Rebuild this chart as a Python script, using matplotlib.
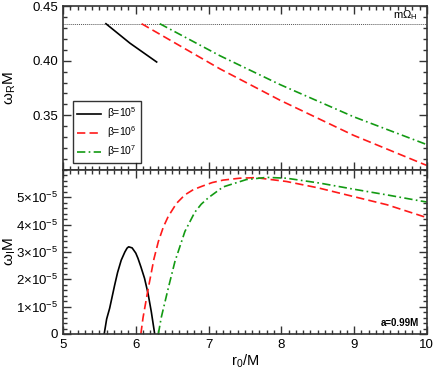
import matplotlib
matplotlib.use("Agg")
import matplotlib.pyplot as plt
from matplotlib.ticker import MultipleLocator, FixedLocator

plt.rcParams["font.family"] = ["Liberation Sans", "DejaVu Sans"]
plt.rcParams["mathtext.default"] = "regular"
plt.rcParams["font.size"] = 9.5

# ── data ──
m_omega_h = 0.4338

# upper panel: real part omega_R M
r_b_re = [5.59, 5.92, 6.287]
w_b_re = [0.4338, 0.4160, 0.3988]
r_r_re = [6.08, 7.157, 7.98, 8.99, 9.95, 10.0]
w_r_re = [0.4338, 0.3925, 0.3639, 0.3318, 0.3055, 0.3042]
r_g_re = [6.33, 7.157, 7.98, 8.99, 9.95, 10.0]
w_g_re = [0.4338, 0.4045, 0.3782, 0.3488, 0.3245, 0.3232]

# lower panel: imaginary part omega_I M (units of 1e-5)
r_b_im = [5.566, 5.60, 5.641, 5.71, 5.75, 5.80, 5.85, 5.88, 5.902, 5.95, 6.00,
          6.03, 6.07, 6.12, 6.168, 6.213, 6.260]
w_b_im = [0.0, 0.55, 0.94, 1.79, 2.25, 2.70, 3.00, 3.14, 3.19, 3.15, 2.96,
          2.77, 2.46, 2.04, 1.49, 0.82, 0.0]
r_r_im = [6.07, 6.10, 6.168, 6.25, 6.31, 6.38, 6.446, 6.56, 6.675, 6.79, 6.905,
          7.05, 7.20, 7.43, 7.65, 8.07, 8.50, 8.99, 9.45, 9.95, 10.0]
w_r_im = [0.0, 0.60, 1.62, 2.75, 3.38, 3.92, 4.30, 4.78, 5.09, 5.28, 5.40,
          5.54, 5.63, 5.70, 5.72, 5.58, 5.35, 5.03, 4.73, 4.30, 4.27]
r_g_im = [6.31, 6.35, 6.446, 6.538, 6.675, 6.81, 6.90, 7.00, 7.20, 7.52, 7.80, 8.07,
          8.53, 8.99, 9.45, 9.95, 10.0]
w_g_im = [0.0, 0.60, 1.67, 2.65, 3.75, 4.45, 4.75, 4.99, 5.38, 5.65, 5.73, 5.70,
          5.52, 5.30, 5.09, 4.85, 4.83]
scale_im = 1e-5

labels = [r"β=10$^{5}$", r"β=10$^{6}$", r"β=10$^{7}$"]
x_ticks = [5, 6, 7, 8, 9, 10]
y_re_ticks = [0.35, 0.40, 0.45]
y_im_ticks = [0, 1, 2, 3, 4, 5]

# ── styles ──
blk = dict(color="black", lw=1.2, ls="-")
red = dict(color="#ff1a1a", lw=1.2, dashes=(5, 2.5))
grn = dict(color="#139a13", lw=1.2, dashes=(5, 2, 1, 2))

fig = plt.figure(figsize=(4.36, 3.69), dpi=100)
ax1 = fig.add_axes([0.1445, 0.5393, 0.8345, 0.4444])
ax2 = fig.add_axes([0.1445, 0.0949, 0.8345, 0.4444])

for ax in (ax1, ax2):
    ax.set_xlim(5, 10)
    ax.xaxis.set_major_locator(FixedLocator(x_ticks))
    ax.xaxis.set_minor_locator(MultipleLocator(0.1))
    ax.tick_params(which="both", direction="in", top=True, right=True, width=1.0, color="#333")
    ax.tick_params(which="major", length=6)
    ax.tick_params(which="minor", length=3)
    for s in ax.spines.values():
        s.set_linewidth(1.2)
        s.set_color("#333")

# ── upper panel ──
ax1.axhline(m_omega_h, color="#555", lw=0.7, ls=(0, (1, 1)))
ax1.plot(r_b_re, w_b_re, label=labels[0], **blk)
ax1.plot(r_r_re, w_r_re, label=labels[1], **red)
ax1.plot(r_g_re, w_g_re, label=labels[2], **grn)
ax1.set_ylim(0.30, 0.45)
ax1.yaxis.set_major_locator(FixedLocator(y_re_ticks))
ax1.yaxis.set_minor_locator(MultipleLocator(0.01))
ax1.set_yticklabels(["%.2f" % t for t in y_re_ticks])
ax1.tick_params(labelbottom=False)
ax1.set_ylabel(r"$ω_R$M", fontsize=11)
ax1.yaxis.set_label_coords(-0.125, 0.5)
ax1.text(9.87, m_omega_h + 0.002, r"m$Ω_H$", ha="right", va="bottom", fontsize=8)
leg = ax1.legend(loc="lower left", bbox_to_anchor=(0.027, 0.04), fontsize=7.5,
                 frameon=True, fancybox=False, edgecolor="black", handlelength=2.3,
                 borderpad=0.4, labelspacing=0.3, handletextpad=0.6,
                 borderaxespad=0.0)
leg.get_frame().set_linewidth(1.0)

# ── lower panel ──
ax2.plot(r_b_im, [v * scale_im for v in w_b_im], **blk)
ax2.plot(r_r_im, [v * scale_im for v in w_r_im], **red)
ax2.plot(r_g_im, [v * scale_im for v in w_g_im], **grn)
ax2.set_ylim(0, 6e-5)
ax2.yaxis.set_major_locator(FixedLocator([t * scale_im for t in y_im_ticks]))
ax2.yaxis.set_minor_locator(MultipleLocator(0.2e-5))
ax2.set_yticklabels(["0"] + [r"%d×10$^{-5}$" % t for t in y_im_ticks[1:]])
ax2.set_xticklabels([str(t) for t in x_ticks])
ax2.set_ylabel(r"$ω_I$M", fontsize=11)
ax2.yaxis.set_label_coords(-0.125, 0.5)
ax2.set_xlabel(r"$r_0$/M", fontsize=10.5, labelpad=1)
ax2.text(9.89, 0.4e-5, "a=0.99M", ha="right", va="center", fontsize=7, fontweight="bold")

fig.savefig("out.png", dpi=100, facecolor="white")
